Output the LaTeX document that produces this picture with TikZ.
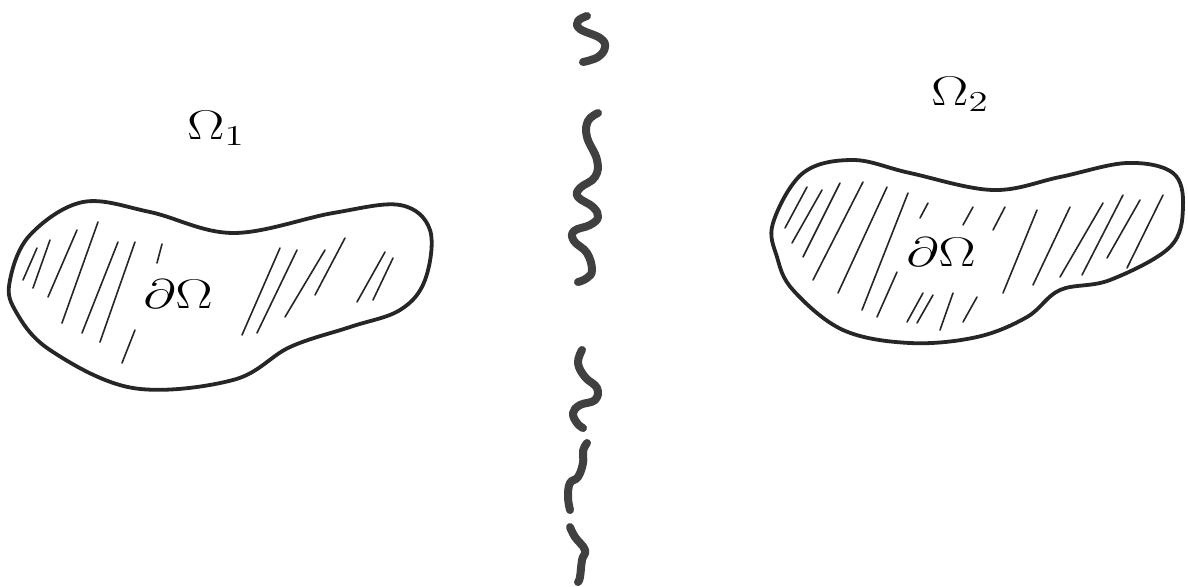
\documentclass[tikz,border=0pt]{standalone}
\begin{document}
\begin{tikzpicture}[x=0.5pt,y=-0.5pt,
  outline/.style={draw=black!85, line width=1.9pt, line join=round},
  hatch/.style={draw=black!85, line width=0.8pt, line cap=round},
  squig/.style={draw=black!75, line width=4pt, line cap=round, line join=round},
  lbl/.style={inner sep=0pt, font=\fontsize{20}{24}\selectfont, xscale=1.35}]
\useasboundingbox (0,0) rectangle (1188,586);
% left blob
\draw[outline] plot[smooth cycle, tension=0.6] coordinates {
  (10,280) (30,235) (83,202) (150,212) (233,233) (333,213) (400,205)
  (430,230) (425,280) (400,310) (350,327) (290,347) (233,380) (133,388) (50,350) (15,310)};
% left hatching
\foreach \a/\b in {
  {(37,248)}/{(23,280)}, {(50,240)}/{(33,288)}, {(77,230)}/{(48,297)},
  {(98,222)}/{(62,323)}, {(118,242)}/{(82,333)}, {(135,242)}/{(100,342)},
  {(162,244)}/{(157,263)}, {(135,330)}/{(122,363)}, {(280,248)}/{(242,335)},
  {(297,250)}/{(257,333)}, {(325,250)}/{(285,317)}, {(345,238)}/{(315,295)},
  {(385,252)}/{(357,302)}, {(393,258)}/{(373,300)}}
  \draw[hatch] \a -- \b;
\node[lbl] (d1) at (178,294) {$\partial\Omega$};
\node[lbl] (o1) at (216,128) {$\Omega_{1}$};
% right blob
\draw[outline] plot[smooth cycle, tension=0.6] coordinates {
  (773,223) (803,173) (853,160) (910,173) (993,190) (1060,177) (1127,163)
  (1173,173) (1183,207) (1170,247) (1110,280) (1060,290) (1027,317)
  (977,337) (910,343) (843,330) (793,290) (777,257)};
% right hatching
\foreach \a/\b in {
  {(807,187)}/{(785,228)}, {(822,190)}/{(792,243)}, {(840,183)}/{(803,257)},
  {(863,182)}/{(813,280)}, {(887,187)}/{(838,293)}, {(908,193)}/{(862,310)},
  {(928,203)}/{(920,218)}, {(897,272)}/{(877,317)}, {(973,207)}/{(963,225)},
  {(1005,207)}/{(993,230)}, {(1037,210)}/{(1003,293)}, {(1070,207)}/{(1033,285)},
  {(1103,203)}/{(1060,277)}, {(1123,195)}/{(1082,275)}, {(1140,200)}/{(1107,258)},
  {(1163,195)}/{(1127,268)}, {(923,293)}/{(907,322)}, {(933,295)}/{(917,323)},
  {(953,293)}/{(940,330)}, {(977,297)}/{(963,322)}}
  \draw[hatch] \a -- \b;
\node[lbl] (d2) at (941,252) {$\partial\Omega$};
\node[lbl] (o2) at (960,94) {$\Omega_{2}$};
% squiggles
\draw[squig] plot[smooth, tension=0.7] coordinates {
  (587,16) (578,21) (580,29) (600,38) (605,47) (598,57) (583,62)};
\draw[squig] plot[smooth, tension=0.7] coordinates {
  (598,113) (588,121) (587,137) (597,160) (595,177) (580,188) (578,197)
  (593,207) (598,217) (590,225) (574,231) (574,241) (587,253) (592,270)
  (587,278) (578,282)};
\draw[squig] plot[smooth, tension=0.7] coordinates {
  (582,350) (578,363) (585,377) (597,388) (595,400) (580,405) (573,413)
  (577,423) (583,428)};
\draw[squig] plot[smooth, tension=0.7] coordinates {
  (587,443) (583,451) (583,463) (578,477) (570,483) (568,497) (570,510)};
\draw[squig] plot[smooth, tension=0.7] coordinates {
  (570,527) (575,537) (585,550) (582,560) (580,577) (578,582)};
\end{tikzpicture}
\end{document}
